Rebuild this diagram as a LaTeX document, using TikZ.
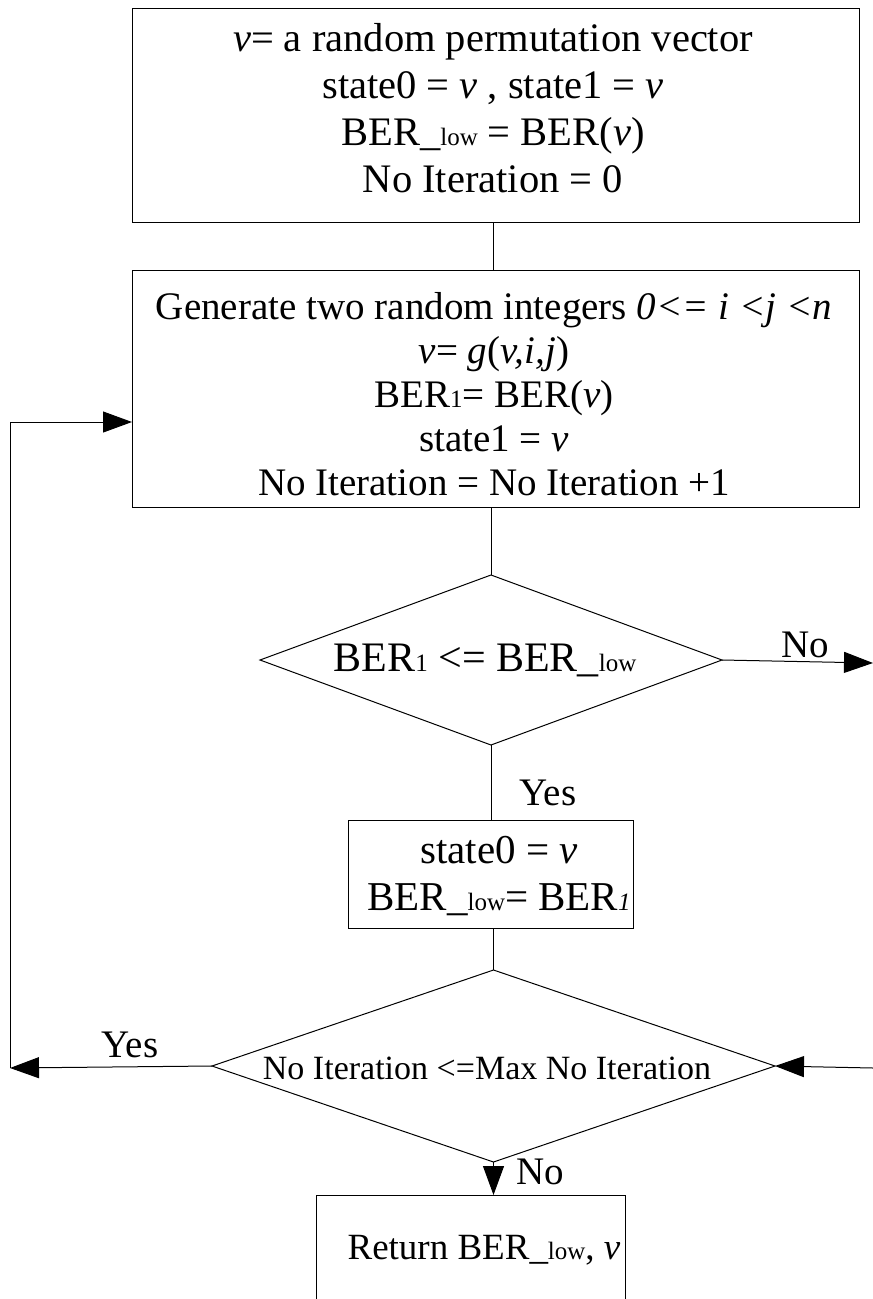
\documentclass[tikz,border=0pt]{standalone}
\usepackage{fontspec}
\setmainfont{Liberation Serif}
\usetikzlibrary{arrows.meta,shapes.geometric}
\newcommand{\lowsub}{{\fontsize{25}{25}\selectfont low}}
\newcommand{\onesub}{{\fontsize{25}{25}\selectfont 1}}
\begin{document}
\begin{tikzpicture}[x=1pt,y=-1pt,
  box/.style={draw, line width=1pt, inner sep=0pt, outer sep=0pt},
  dia/.style={draw, diamond, line width=1pt, inner sep=0pt, outer sep=0pt},
  conn/.style={line width=1pt},
  arr/.style={conn, -{Triangle[length=29pt,width=21pt]}},
  txt/.style={font=\fontsize{39}{46}\selectfont, align=center, inner sep=0pt},
  smalltxt/.style={font=\fontsize{34}{40}\selectfont, align=center, inner sep=0pt},
  lbl/.style={font=\fontsize{39}{46}\selectfont, inner sep=0pt},
]
\useasboundingbox (0,0) rectangle (873,1299);
\clip (0,0) rectangle (873,1299);

% initialisation
\node[box, minimum width=727pt, minimum height=214pt] (b1) at (495.5,115) {};
\node[txt, font=\fontsize{40.5}{47}\selectfont] (t1) at (493,108) {\textit{v}= a random permutation vector\\
  state0 = \textit{v} , state1 = \textit{v}\\
  BER\_\lowsub{} = BER(\textit{v})\\
  No Iteration = 0};

% random swap step
\node[box, minimum width=727pt, minimum height=237pt] (b2) at (495.5,388.5) {};
\node[txt, font=\fontsize{39}{44}\selectfont] (t2) at (494,394) {Generate two random integers \textit{0<= i <j <n}\\
  \textit{v}= \textit{g}(\textit{v,i,j})\\
  BER\onesub= BER(\textit{v})\\
  state1 = \textit{v}\\
  No Iteration = No Iteration +1};

% first test
\node[dia, minimum width=462pt, minimum height=170pt] (d1) at (491,660) {};
\node[txt, font=\fontsize{42}{48}\selectfont] (t3) at (485,660) {BER\onesub{} <= BER\_\lowsub};

% accept step
\node[box, minimum width=285pt, minimum height=108pt] (b3) at (490.5,874) {};
\node[txt, font=\fontsize{41}{47}\selectfont] (t4) at (499,876) {state0 = \textit{v}\\ BER\_\lowsub= BER{\fontsize{25}{25}\selectfont\itshape 1}};

% loop test
\node[dia, minimum width=563pt, minimum height=192pt] (d2) at (493.5,1066) {};
\node[smalltxt] (t5) at (487,1068) {No Iteration <=Max No Iteration};

% result
\node[box, minimum width=309pt, minimum height=110pt] (b4) at (470.5,1250) {};
\node[txt, font=\fontsize{37}{44}\selectfont] (t6) at (484,1250) {Return BER\_\lowsub, \textit{v}};

% free ends of connectors
\coordinate (noout) at (873,663);
\coordinate (yesout) at (10,1068);
\coordinate (loopup) at (10,422);
\coordinate (rin) at (873,1068);

% connectors
\draw[conn] (b1.south -| d1.north) ++(2,0) coordinate (b1s) -- (b1s |- b2.north);
\draw[conn] (d1.north |- b2.south) -- (d1.north);
\draw[arr] (d1.east) -- (noout);
\draw[conn] (d1.south) -- (d1.south |- b3.north);
\draw[conn] (d2.north |- b3.south) -- (d2.north);
\draw[arr] (d2.west) -- (yesout);
\draw[conn] (yesout) -- (loopup);
\draw[arr] (loopup) -- (loopup -| b2.west);
\draw[arr] (rin) -- (d2.east);
\draw[arr] (d2.south) -- (d2.south |- b4.north);

% branch labels
\node[lbl] (lno1) at (805,645) {No};
\node[lbl] (lyes1) at (548,793) {Yes};
\node[lbl] (lyes2) at (130,1045) {Yes};
\node[lbl] (lno2) at (540,1172) {No};
\end{tikzpicture}
\end{document}
